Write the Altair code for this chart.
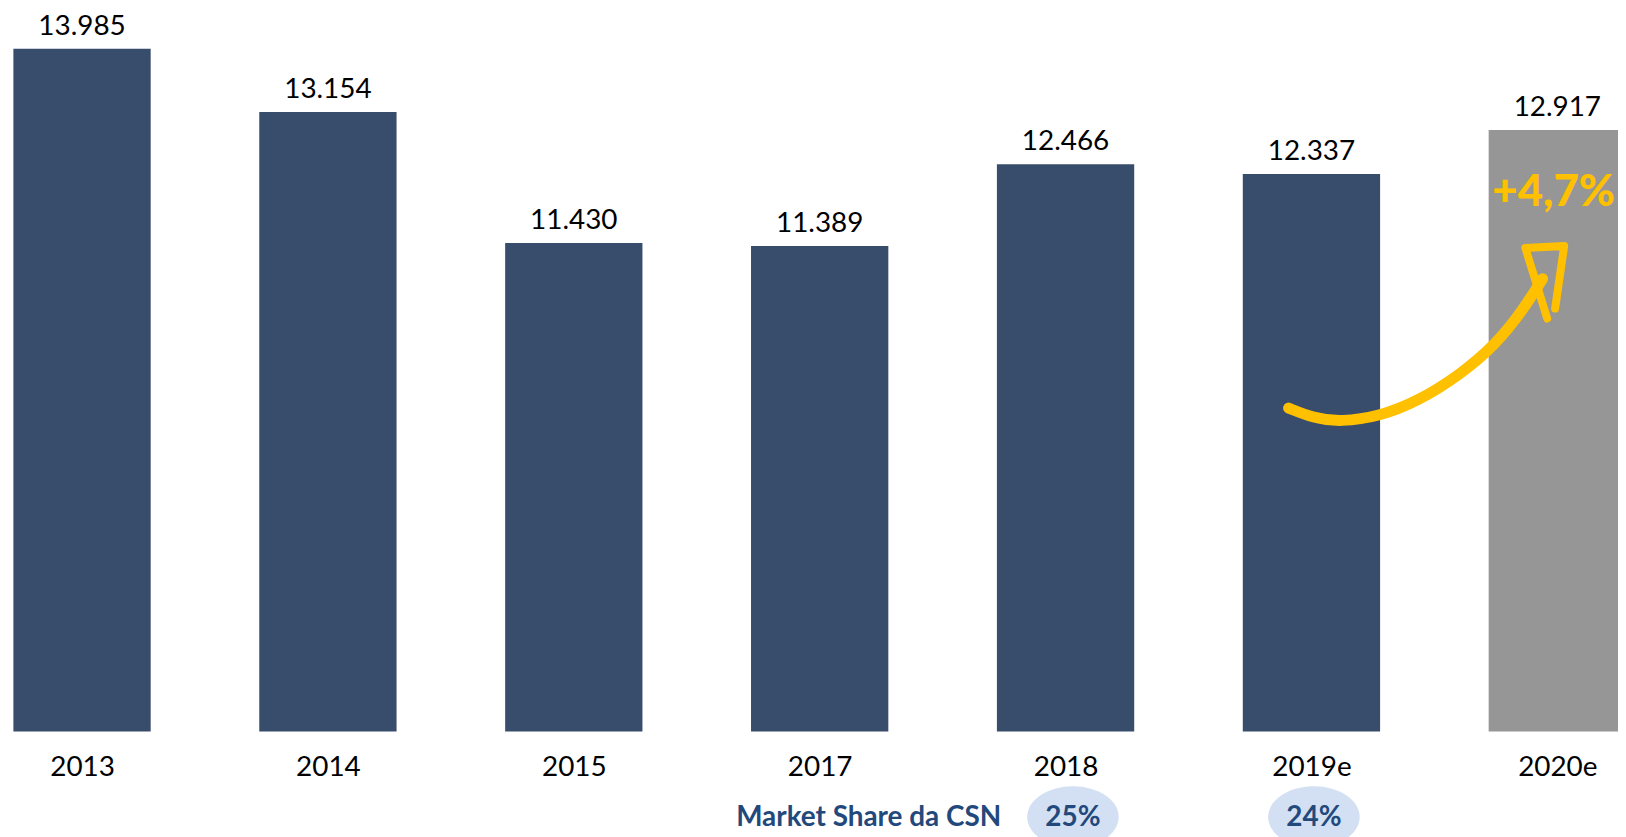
import altair as alt
import pandas as pd

# ---- data ----
years = ["2013", "2014", "2015", "2017", "2018", "2019e", "2020e"]
volumes = [13985, 13154, 11430, 11389, 12466, 12337, 12917]
bar_colors = ["#384C6B", "#384C6B", "#384C6B", "#384C6B", "#384C6B", "#384C6B", "#969696"]

share_labels = ["25%", "24%"]
share_pos = [4.03, 5.01]

growth_label = "+4,7%"

# decorative arrow (x in category-index units, y in data units)
shaft_x = [4.907, 5.008, 5.118, 5.280, 5.426, 5.603, 5.750, 5.859, 5.940]
shaft_y = [9257, 9126, 9073, 9152, 9335, 9689, 10095, 10540, 10959]
head_x = [5.959, 5.870, 6.028, 5.991]
head_y = [10435, 11365, 11391, 10566]

W, H = 1618, 725
X_DOM = [-0.3011, 6.2468]
Y_DOM = [5000, 14496]
HALF = 0.2792

bars_df = pd.DataFrame({
    "idx": list(range(len(years))),
    "year": years,
    "value": volumes,
    "color": bar_colors,
})

xs = alt.Scale(domain=X_DOM, nice=False, zero=False)
ys = alt.Scale(domain=Y_DOM, nice=False, zero=False)

label_expr = "[" + ",".join("'%s'" % y for y in years) + "][datum.value]"

base = alt.Chart(bars_df)

bars = base.transform_calculate(
    x0="datum.idx - %f" % HALF, x1="datum.idx + %f" % HALF
).mark_bar().encode(
    x=alt.X("x0:Q", scale=xs,
            axis=alt.Axis(values=list(range(len(years))), labelExpr=label_expr,
                          title=None, grid=False, domain=False, ticks=False, tickSize=0,
                          labelFont="Lato", labelFontSize=28, labelColor="#000000",
                          labelPadding=44, labelBaseline="alphabetic",
                          labelFlush=False, labelOverlap=False)),
    x2="x1:Q",
    y=alt.Y("value:Q", scale=ys, axis=None),
    y2=alt.datum(Y_DOM[0]),
    color=alt.Color("color:N", scale=None),
)

value_labels = base.transform_calculate(
    txt="replace(format(datum.value, ','), ',', '.')"
).mark_text(font="Lato", fontSize=28, color="#000000", baseline="alphabetic", dy=-14).encode(
    x=alt.X("idx:Q", scale=xs),
    y=alt.Y("value:Q", scale=ys),
    text="txt:N",
)

growth = alt.Chart(pd.DataFrame({"idx": [5.985], "v": [11916], "t": [growth_label]})).mark_text(
    font="Lato", fontSize=44, fontWeight=900, color="#FFC000", baseline="alphabetic", align="center"
).encode(x=alt.X("idx:Q", scale=xs), y=alt.Y("v:Q", scale=ys), text="t:N")

shaft = alt.Chart(pd.DataFrame({"x": shaft_x, "y": shaft_y, "o": list(range(len(shaft_x)))})).mark_line(
    color="#FFC000", strokeWidth=11, strokeCap="round", interpolate="basis"
).encode(x=alt.X("x:Q", scale=xs), y=alt.Y("y:Q", scale=ys), order="o:Q")

head = alt.Chart(pd.DataFrame({"x": head_x, "y": head_y, "o": list(range(len(head_x)))})).mark_line(
    color="#FFC000", strokeWidth=8, strokeCap="round", strokeJoin="round"
).encode(x=alt.X("x:Q", scale=xs), y=alt.Y("y:Q", scale=ys), order="o:Q")

share_df = pd.DataFrame({"x": share_pos, "t": share_labels})
ellipse_path = "M -1 0 A 1 0.67 0 1 0 1 0 A 1 0.67 0 1 0 -1 0 Z"
ellipses = alt.Chart(share_df).mark_point(
    shape=ellipse_path, size=92 * 92, filled=True, color="#D3E0F3", opacity=1, strokeWidth=0
).encode(x=alt.X("x:Q", scale=xs), y=alt.value(H + 86))

share_text = alt.Chart(share_df).mark_text(
    font="Lato", fontSize=28, fontWeight="bold", color="#23497C", baseline="alphabetic"
).encode(x=alt.X("x:Q", scale=xs), y=alt.value(H + 95), text="t:N")

ms_label = alt.Chart(pd.DataFrame({"x": [3.738], "t": ["Market Share da CSN"]})).mark_text(
    font="Lato", fontSize=28, fontWeight="bold", color="#23497C", baseline="alphabetic", align="right"
).encode(x=alt.X("x:Q", scale=xs), y=alt.value(H + 95), text="t:N")

chart = alt.layer(
    bars, value_labels, shaft, head, growth, ellipses, share_text, ms_label
).properties(
    width=W, height=H,
    autosize=alt.AutoSizeParams(type="none"),
    padding={"left": 0, "top": 0, "right": 0, "bottom": 104},
).configure_view(stroke=None)

chart.save("out.html", embed_options={"renderer": "svg", "actions": False})
